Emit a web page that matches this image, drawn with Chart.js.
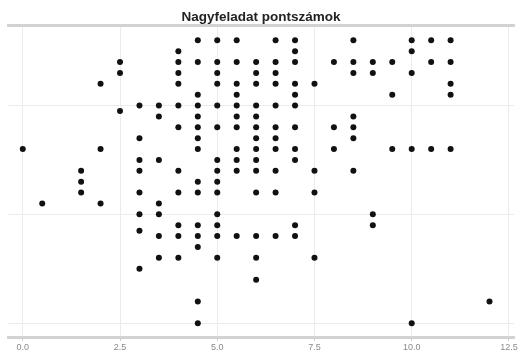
<!DOCTYPE html>
<html>
<head>
<meta charset="utf-8">
<script src="https://cdn.jsdelivr.net/npm/chart.js@4"></script>
<style>
  html, body { margin: 0; padding: 0; background: #fff; }
</style>
</head>
<body>
<canvas id="scoreChart" width="520" height="353"></canvas>
<script>
// Chart data

const chartTitle = 'Nagyfeladat pontszámok'
const xTicks = [0, 2.5, 5, 7.5, 10, 12.5]
const yGridValues = [0, 10, 20]

// one entry per score column: x value and the y values stacked on it
const scoreX = [0, 0.5, 1.5, 2, 2.5, 3, 3.5, 4, 4.5, 5, 5.5, 6, 6.5, 7, 7.5, 8, 8.5, 9, 9.5, 10, 10.5, 11, 12]
const scoreY = [
    [16],
    [11],
    [14, 13, 12],
    [22, 16, 11],
    [24, 23, 19.5],
    [20, 17, 15, 14, 12, 10, 8.5, 5],
    [20, 19, 15, 11, 10, 8, 6],
    [25, 24, 23, 22, 20, 18, 14, 12, 9, 8, 6],
    [26, 24, 21, 20, 19, 18, 17, 16, 13, 12, 9, 8, 7, 2, 0],
    [26, 24, 23, 22, 20, 18, 15, 14, 13, 12, 10, 9, 8, 6],
    [26, 24, 22, 21, 20, 19, 18, 16, 15, 14, 8],
    [24, 23, 22, 20, 19, 18, 17, 16, 15, 14, 12, 8, 6, 4],
    [26, 24, 23, 22, 20, 18, 17, 16, 14, 12, 8],
    [26, 25, 24, 22, 21, 20, 18, 16, 15, 9, 8],
    [22, 14, 12, 6],
    [24, 18, 16],
    [26, 24, 23, 19, 18, 17, 14],
    [24, 23, 10, 9],
    [24, 21, 16],
    [26, 25, 23, 16, 0],
    [26, 24, 16],
    [26, 24, 22, 21, 16],
    [2],
]

// Build points
const points = []
for (let i = 0; i < scoreX.length; i++) {
    scoreY[i].forEach(y => points.push({ x: scoreX[i], y: y }))
}

const gridColor = '#ebebeb'
const axisColor = '#d2d2d2'
const xRange = { min: -0.38, max: 12.63 }

const render = () => {
    new Chart(document.getElementById('scoreChart'), {
        type: 'scatter',
        data: {
            datasets: [{
                data: points,
                backgroundColor: '#111',
                borderWidth: 0,
                pointRadius: 3,
                pointHoverRadius: 3,
            }],
        },
        options: {
            responsive: false,
            animation: false,
            devicePixelRatio: 1,
            events: [],
            layout: { padding: { left: 8, right: 6, top: 0, bottom: 0 } },
            plugins: {
                legend: { display: false },
                tooltip: { enabled: false },
                title: {
                    display: true,
                    text: chartTitle,
                    color: '#222',
                    font: { family: 'Liberation Sans, Arial, sans-serif', size: 13.5, weight: 'bold', lineHeight: 1.2 },
                    padding: { top: 9.5, bottom: -0.5 },
                },
            },
            scales: {
                x: {
                    type: 'linear',
                    position: 'bottom',
                    min: xRange.min,
                    max: xRange.max,
                    afterBuildTicks: scale => { scale.ticks = xTicks.map(v => ({ value: v })) },
                    afterFit: scale => { scale.height = 15.5 },
                    ticks: {
                        color: '#8a8a8a',
                        padding: 2,
                        font: { family: 'Liberation Sans, Arial, sans-serif', size: 9 },
                        callback: v => v.toFixed(1),
                    },
                    grid: { color: gridColor, lineWidth: 1, tickLength: 3, tickColor: '#bbb' },
                    border: { display: true, color: axisColor, width: 3 },
                },
                xTop: {
                    type: 'linear',
                    position: 'top',
                    min: xRange.min,
                    max: xRange.max,
                    afterFit: scale => { scale.height = 0 },
                    ticks: { display: false },
                    grid: { display: false },
                    border: { display: true, color: axisColor, width: 3 },
                },
                y: {
                    type: 'linear',
                    min: -1.32,
                    max: 27.39,
                    afterBuildTicks: scale => { scale.ticks = yGridValues.map(v => ({ value: v })) },
                    afterFit: scale => { scale.width = 0 },
                    ticks: { display: false },
                    grid: { color: gridColor, lineWidth: 1, drawTicks: false },
                    border: { display: false },
                },
            },
        },
    })
}

render()
</script>
</body>
</html>
